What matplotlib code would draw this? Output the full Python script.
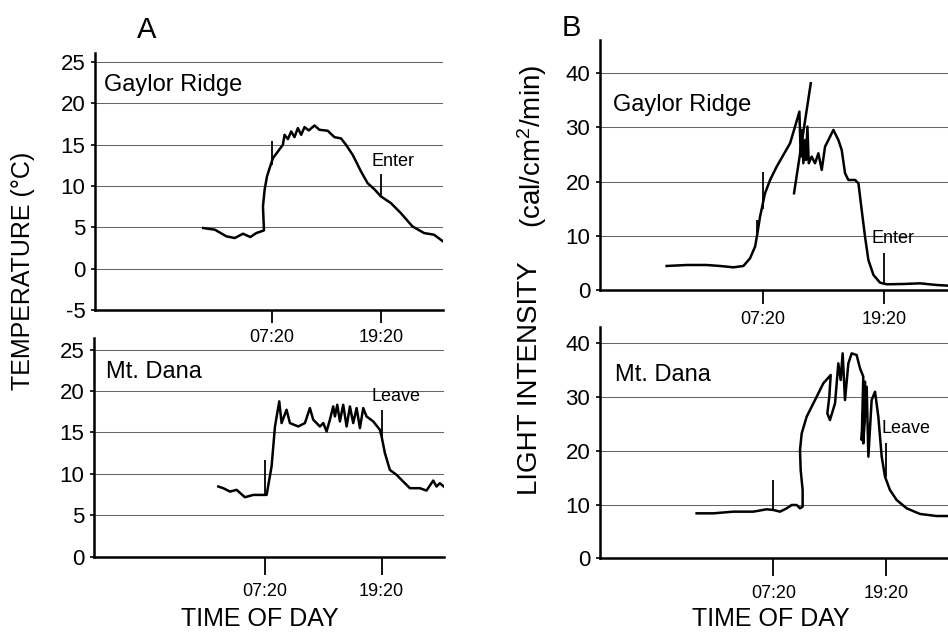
import matplotlib
matplotlib.use("Agg")
import matplotlib.pyplot as plt

plt.rcParams['font.family'] = ['Liberation Sans', 'DejaVu Sans']
plt.rcParams['axes.unicode_minus'] = False
plt.rcParams['mathtext.default'] = 'regular'

# ---------------- data (hours of day, values) ----------------
tick_hours = [7.333, 19.333]
tick_labels = ['07:20', '19:20']

temp_yticks = [-5, 0, 5, 10, 15, 20, 25]
temp_yticks_dana = [0, 5, 10, 15, 20, 25]
light_yticks = [0, 10, 20, 30, 40]

# A: Gaylor Ridge temperature
gaylor_temp_h = [-0.16, 1.12, 2.39, 3.30, 4.21, 5.01, 5.66, 6.50, 6.39, 6.57, 6.83, 7.12,
                 7.48, 8.03, 8.57, 8.75, 9.12, 9.48, 9.84, 10.21, 10.57, 10.94, 11.41, 12.03,
                 12.57, 13.48, 14.21, 14.94, 15.48, 16.21, 17.12, 17.84, 18.57, 19.30, 20.39,
                 21.48, 22.75, 24.03, 25.12, 26.10]
gaylor_temp_v = [4.92, 4.72, 3.91, 3.71, 4.23, 3.83, 4.31, 4.63, 7.54, 9.55, 11.16, 12.17,
                 13.38, 14.19, 14.99, 16.20, 15.68, 16.61, 15.92, 17.01, 16.20, 17.13, 16.73, 17.33,
                 16.81, 16.69, 15.92, 15.76, 14.99, 13.78, 11.77, 10.36, 9.63, 8.75, 7.94,
                 6.73, 5.12, 4.31, 4.11, 3.30]

# A: Mt. Dana temperature
dana_temp_h = [2.53, 3.04, 3.73, 4.41, 5.27, 6.13, 6.98, 7.50, 8.01, 8.36,
               8.80, 9.04, 9.55, 9.90, 10.75, 11.44, 11.95, 12.30, 12.64, 12.98,
               13.33, 13.67, 14.01, 14.35, 14.53, 14.77, 15.04, 15.38, 15.73, 16.07,
               16.41, 16.76, 17.10, 17.44, 17.78, 18.47, 19.15, 19.33, 19.67, 20.18,
               20.87, 21.55, 22.24, 23.27, 23.95, 24.64, 24.98, 25.32, 25.73]
dana_temp_v = [8.47, 8.27, 7.86, 8.07, 7.18, 7.46, 7.46, 7.46, 10.90, 15.72,
               18.75, 16.13, 17.74, 16.13, 15.72, 16.13, 17.94, 16.53, 16.13, 15.72,
               16.13, 15.12, 16.53, 18.14, 16.93, 18.34, 16.33, 18.34, 15.72, 18.14,
               16.13, 17.94, 15.52, 17.94, 16.93, 16.33, 15.32, 14.51, 12.50, 10.48,
               9.88, 9.07, 8.27, 8.27, 7.98, 9.19, 8.47, 8.87, 8.47]

# B: Gaylor Ridge light
gaylor_light_h = [-2.14, -0.16, 1.81, 3.12, 4.44, 5.43, 6.08, 6.58, 6.81, 7.07,
                  7.56, 8.06, 8.71, 9.37, 10.03, 10.52, 10.95, 11.08, 11.21, 11.34,
                  11.51, 11.60, 11.74, 11.87, 12.16, 12.49, 12.82, 13.15, 13.48, 13.81,
                  14.30, 14.79, 15.12, 15.45, 15.78, 16.44, 16.77, 17.09, 17.42, 17.75,
                  18.25, 18.90, 19.56, 21.20, 22.85, 24.49, 25.61]
gaylor_light_v = [4.43, 4.61, 4.61, 4.43, 4.18, 4.43, 5.84, 8.00, 10.46, 13.53,
                  17.84, 20.29, 22.75, 24.91, 27.06, 30.13, 32.90, 24.60, 29.52, 23.37,
                  27.67, 23.98, 30.13, 23.37, 24.60, 23.37, 25.21, 22.14, 26.45, 27.67,
                  29.52, 27.67, 25.83, 21.52, 20.29, 20.29, 19.68, 14.76, 9.84, 5.53,
                  2.77, 1.35, 1.05, 1.11, 1.23, 0.92, 0.80]
gaylor_spike_h = [10.42, 12.07]
gaylor_spike_v = [17.84, 38.13]

# B: Mt. Dana light
dana_light_h = [-0.83, 0.95, 3.08, 5.21, 6.63, 7.34, 8.05, 8.76, 9.29, 9.82,
                10.18, 10.46, 10.46, 10.25, 10.18, 10.36, 10.89, 11.78, 12.66, 13.45,
                13.30, 13.09, 13.37, 13.91, 14.26, 14.51, 14.72, 14.97, 15.33, 15.68,
                16.21, 16.57, 16.92, 16.75, 17.10, 16.92, 17.28, 17.46, 17.81, 18.17,
                18.52, 18.88, 19.23, 19.76, 20.47, 21.54, 22.96, 24.73, 25.94]
dana_light_v = [8.37, 8.37, 8.68, 8.68, 9.12, 8.99, 8.68, 9.30, 9.92, 9.92,
                9.30, 9.61, 12.71, 16.43, 20.15, 23.25, 26.36, 29.46, 32.56, 34.11,
                30.08, 26.98, 25.73, 28.84, 36.28, 33.18, 38.14, 29.46, 36.28, 38.14,
                37.83, 35.35, 33.80, 22.01, 32.87, 21.39, 31.94, 18.91, 29.46, 31.00,
                26.36, 18.91, 15.19, 12.71, 10.85, 9.30, 8.25, 7.87, 7.87]

# event markers: (hour, low, high)
gaylor_temp_marks = [(7.333, 12.5, 15.4), (19.333, 8.95, 11.4)]
dana_temp_marks = [(7.333, 7.3, 11.7), (19.333, 14.5, 17.7)]
gaylor_light_marks = [(6.74, 10.5, 12.9), (7.333, 15.0, 21.8), (19.333, 1.2, 6.8)]
dana_light_marks = [(7.333, 9.0, 14.6), (19.333, 15.2, 21.4)]

# ---------------- figure ----------------
W, H = 948, 633
fig = plt.figure(figsize=(W / 100, H / 100), dpi=100)


def px_axes(x0, y_top, x1, y_bot):
    ax = fig.add_axes([x0 / W, 1 - y_bot / H, (x1 - x0) / W, (y_bot - y_top) / H])
    ax.set_facecolor('none')
    return ax


def style(ax, xlim, ylim, yticks, tick_len, tick_pad):
    ax.set_xlim(*xlim)
    ax.set_ylim(*ylim)
    for s in ['top', 'right']:
        ax.spines[s].set_visible(False)
    for s in ['left', 'bottom']:
        ax.spines[s].set_linewidth(1.8)
    ax.set_yticks(yticks)
    ax.set_yticklabels([str(t) for t in yticks])
    ax.set_xticks(tick_hours)
    ax.set_xticklabels(tick_labels)
    ax.tick_params(axis='y', direction='out', length=3, width=1.2, pad=4, labelsize=16)
    ax.tick_params(axis='x', direction='out', length=tick_len, width=1.3, pad=tick_pad,
                   labelsize=13)
    ax.grid(axis='y', color='0.4', linewidth=0.75)
    ax.set_axisbelow(True)


def marks(ax, m):
    ax.vlines([a for a, _, _ in m], [b for _, b, _ in m], [c for _, _, c in m],
              color='black', linewidth=1.3)


lw = 1.8

# A top
ax1 = px_axes(95, 53, 443, 310)
style(ax1, (-12, 26.1), (-5, 26.1), temp_yticks, 9, 5)
ax1.plot(gaylor_temp_h, gaylor_temp_v, color='black', lw=lw)
marks(ax1, gaylor_temp_marks)
ax1.text(0.026, 0.875, 'Gaylor Ridge', transform=ax1.transAxes, fontsize=17,
         ha='left', va='center')
ax1.text(18.3, 13.0, 'Enter', fontsize=13, ha='left', va='center')

# A bottom
ax2 = px_axes(94, 338, 444, 556.7)
style(ax2, (-10.26, 25.75), (0, 26.4), temp_yticks_dana, 13, 6)
ax2.plot(dana_temp_h, dana_temp_v, color='black', lw=lw)
marks(ax2, dana_temp_marks)
ax2.text(0.034, 0.845, 'Mt. Dana', transform=ax2.transAxes, fontsize=17,
         ha='left', va='center')
ax2.text(18.3, 19.3, 'Leave', fontsize=13, ha='left', va='center')

# B top
ax3 = px_axes(600, 40, 948, 290)
style(ax3, (-8.71, 25.6), (0, 46.1), light_yticks, 10, 5)
ax3.plot(gaylor_light_h, gaylor_light_v, color='black', lw=lw)
ax3.plot(gaylor_spike_h, gaylor_spike_v, color='black', lw=lw)
marks(ax3, gaylor_light_marks)
ax3.text(0.037, 0.74, 'Gaylor Ridge', transform=ax3.transAxes, fontsize=17,
         ha='left', va='center')
ax3.text(18.1, 9.5, 'Enter', fontsize=13, ha='left', va='center')

# B bottom
ax4 = px_axes(600, 326.7, 948, 558.3)
style(ax4, (-11.12, 25.94), (0, 43.1), light_yticks, 13, 6)
ax4.plot(dana_light_h, dana_light_v, color='black', lw=lw)
marks(ax4, dana_light_marks)
ax4.text(0.043, 0.79, 'Mt. Dana', transform=ax4.transAxes, fontsize=17,
         ha='left', va='center')
ax4.text(18.9, 24.2, 'Leave', fontsize=13, ha='left', va='center')

# figure texts
fig.text(147 / W, 1 - 30 / H, 'A', fontsize=21, ha='center', va='center')
fig.text(571 / W, 1 - 28 / H, 'B', fontsize=21, ha='center', va='center')
fig.text(260 / W, 1 - 619 / H, 'TIME OF DAY', fontsize=18, ha='center', va='center')
fig.text(771 / W, 1 - 619 / H, 'TIME OF DAY', fontsize=18, ha='center', va='center')
fig.text(23 / W, 1 - 271 / H, 'TEMPERATURE (\u00b0C)', fontsize=18, rotation=90,
         ha='center', va='center')
fig.text(530 / W, 1 - 378 / H, 'LIGHT INTENSITY', fontsize=20, rotation=90,
         ha='center', va='center')
fig.text(532 / W, 1 - 146 / H, '(cal/cm$^2$/min)', fontsize=20, rotation=90,
         ha='center', va='center')

fig.savefig('out.png', dpi=100)
